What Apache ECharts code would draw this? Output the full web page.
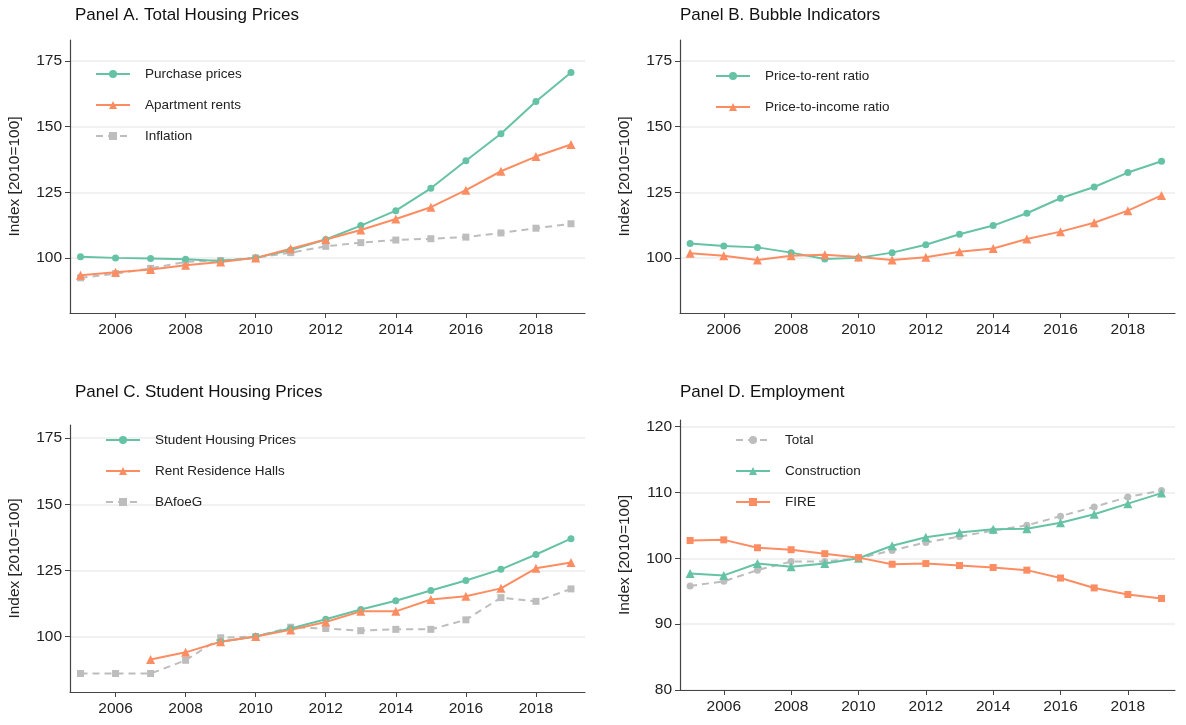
<!DOCTYPE html>
<html><head><meta charset="utf-8">
<script src="https://cdn.jsdelivr.net/npm/echarts@6/dist/echarts.min.js"></script>
<style>html,body{margin:0;padding:0;background:#fff}#c{width:1186px;height:725px}</style>
</head><body><div id="c"></div>
<script>
const years = [2005,2006,2007,2008,2009,2010,2011,2012,2013,2014,2015,2016,2017,2018,2019];
const xTicks = [2006,2008,2010,2012,2014,2016,2018];
const purchase = [100.4,100,99.8,99.5,98.8,100,103,107,112.3,118,126.5,137,147.3,159.6,170.6];
const rents = [93.4,94.5,95.6,97.2,98.4,100,103.5,107,110.6,114.8,119.3,125.8,133,138.6,143.2];
const inflation = [92.4,94,96,98.5,99,100,102,104.4,105.8,106.8,107.3,107.9,109.5,111.3,113];
const priceRent = [105.5,104.5,104,102,99.6,100,102,105,109,112.3,117,122.7,127,132.5,136.8];
const priceIncome = [101.8,100.8,99.2,100.8,101.2,100.3,99.2,100.2,102.3,103.6,107.2,110,113.4,118,123.8];
const student = [null,null,null,null,98,100,103,106.5,110.2,113.5,117.4,121.2,125.4,131,137];
const halls = [null,null,91.3,94,98,100,102.5,105.5,109.5,109.5,114,115.2,118.2,125.8,128];
const bafoeg = [86,86,86,91,99.5,100,103.5,103,102.2,102.7,102.7,106.3,114.7,113.3,118];
const total = [95.8,96.5,98.2,99.5,99.5,100,101.2,102.4,103.3,104.2,105,106.4,107.8,109.3,110.3];
const construction = [97.7,97.4,99.2,98.7,99.2,100,101.9,103.2,103.9,104.4,104.5,105.4,106.7,108.3,109.9];
const fire = [102.7,102.8,101.6,101.3,100.7,100.1,99.1,99.2,98.9,98.6,98.2,97,95.5,94.5,93.9];
const ticksA = [100,125,150,175];
const ticksD = [80,90,100,110,120];

const TEAL='#66c2a5', ORANGE='#fc8d62', GRAY='#bdbdbd';
const grids = [
  {left:70,top:40,width:515,height:273},
  {left:680,top:40,width:495,height:273},
  {left:70,top:425,width:515,height:267},
  {left:680,top:420,width:495,height:270}
];
const yr = [[79,183,ticksA],[79,183,ticksA],[79,180,ticksA],[80,121,ticksD]];
const titles = ['Panel A. Total Housing Prices','Panel B. Bubble Indicators','Panel C. Student Housing Prices','Panel D. Employment'];
const titlePos = [[70,2],[675,2],[70,379],[675,379]];
const axisCol='#444';
const FF='Liberation Sans';
const xAxis = grids.map((g,i)=>({type:'value',gridIndex:i,min:2004.7,max:2019.4,
  axisLine:{lineStyle:{color:axisCol,width:1.2}},splitLine:{show:false},
  axisTick:{customValues:xTicks,length:5,lineStyle:{color:axisCol}},
  axisLabel:{customValues:xTicks,color:'#222',fontSize:15.5,fontFamily:FF,margin:9,formatter:v=>String(v)}}));
const yAxis = grids.map((g,i)=>({type:'value',gridIndex:i,min:yr[i][0],max:yr[i][1],
  name:'Index [2010=100]',nameLocation:'middle',nameGap:47,nameTextStyle:{color:'#222',fontSize:15.5,fontFamily:FF},
  axisLine:{show:true,lineStyle:{color:axisCol,width:1.2}},splitLine:{show:false},
  axisTick:{show:true,customValues:yr[i][2],length:5,lineStyle:{color:axisCol}},
  axisLabel:{customValues:yr[i][2],color:'#222',fontSize:15.5,fontFamily:FF,margin:8}}));
function mk(name,data,i,color,symbol,dashed,withGrid){
  const s={name,type:'line',xAxisIndex:i,yAxisIndex:i,data:years.map((y,k)=>[y,data[k]]),
    color,symbol,symbolSize:symbol==='triangle'?9:7,z:dashed?2:3,
    lineStyle:{color,width:2,type:dashed?[7,5]:'solid'},itemStyle:{color}};
  if(withGrid){s.markLine={silent:true,symbol:'none',label:{show:false},z:0,
    lineStyle:{color:'#ececec',type:'solid',width:1.5},data:yr[i][2].map(v=>({yAxis:v}))};}
  return s;
}
const series=[
  mk('Purchase prices',purchase,0,TEAL,'circle',false,true),
  mk('Apartment rents',rents,0,ORANGE,'triangle',false),
  mk('Inflation',inflation,0,GRAY,'rect',true),
  mk('Price-to-rent ratio',priceRent,1,TEAL,'circle',false,true),
  mk('Price-to-income ratio',priceIncome,1,ORANGE,'triangle',false),
  mk('Student Housing Prices',student,2,TEAL,'circle',false,true),
  mk('Rent Residence Halls',halls,2,ORANGE,'triangle',false),
  mk('BAfoeG',bafoeg,2,GRAY,'rect',true),
  mk('Total',total,3,GRAY,'circle',true,true),
  mk('Construction',construction,3,TEAL,'triangle',false),
  mk('FIRE',fire,3,ORANGE,'rect',false)
];
const legTxt={color:'#222',fontSize:13.5,fontFamily:FF,padding:[0,0,0,10]};
const legPos=[[90,62,['Purchase prices','Apartment rents','Inflation']],
  [710,64,['Price-to-rent ratio','Price-to-income ratio']],
  [100,428,['Student Housing Prices','Rent Residence Halls','BAfoeG']],
  [730,428,['Total','Construction','FIRE']]];
const legend=legPos.map(p=>({left:p[0],top:p[1],orient:'vertical',data:p[2],itemWidth:34,itemHeight:10,itemGap:17,textStyle:legTxt,selectedMode:false}));
const chart=echarts.init(document.getElementById('c'));
chart.setOption({animation:false,backgroundColor:'#fff',
  title:titles.map((t,i)=>({text:t,left:titlePos[i][0],top:titlePos[i][1],textStyle:{fontSize:17,fontWeight:'normal',color:'#111',fontFamily:FF}})),
  grid:grids,xAxis,yAxis,legend,series});
</script></body></html>
